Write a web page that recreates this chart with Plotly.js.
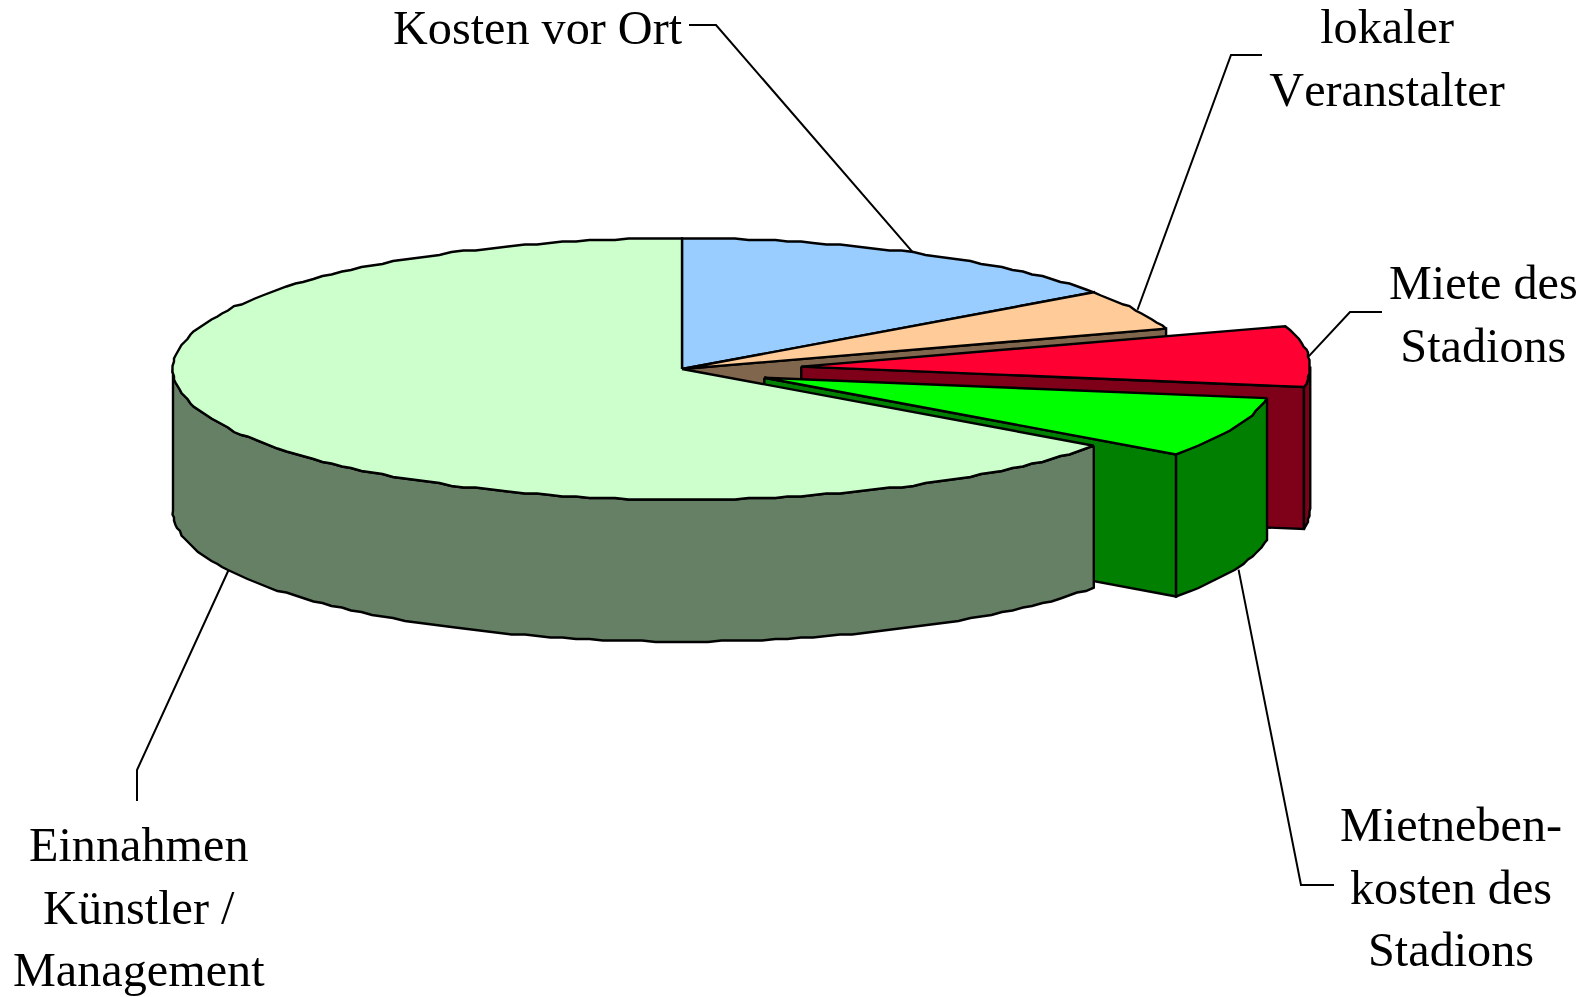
<!DOCTYPE html>
<html>
<head>
<meta charset="utf-8">
<script src="https://cdn.plot.ly/plotly-3.0.1.min.js"></script>
<style>html,body{margin:0;padding:0;background:#fff;overflow:hidden}#chart{width:1577px;height:997px}#chart text{font-kerning:none}</style>
</head>
<body>
<div id="chart"></div>
<script>
// Data, clockwise from 12 o'clock
const categories = ["Kosten vor Ort", "lokaler<br>Veranstalter", "Miete des<br>Stadions", "Mietneben-<br>kosten des<br>Stadions", "Einnahmen<br>Künstler /<br>Management"];
const shares = [15, 5, 7.5, 7.5, 65];
const explode = [0, 0, 0.235, 0.175, 0];
const topColors = ["#99CCFF", "#FFCC99", "#FF0033", "#00FF00", "#CCFFCC"];
const sideColors = ["#4C667F", "#7F664C", "#7F0019", "#007F00", "#668066"];

// Projection of the tilted pie onto the page axes
const CX = 682, CY = 369, RX = 509, RY = 130.5, DEPTH = 142;
const STEP = 1.5, GRID = 1.5;

// Label placement
const labelX = [685, 1387, 1483, 1451, 138.5];
const labelY = [27, 58, 314, 887, 907];
const labelAnchor = ["right", "center", "center", "center", "center"];
const elbowX = [[716, 689], [1231, 1262], [1350, 1382], [1301, 1334], [137, 137]];
const elbowY = [[25, 25], [55, 55], [312, 312], [885, 885], [770, 801]];
const anchorOnBase = [false, false, false, true, true];
const anchorNudgeX = [0, 2, 0, 4, 0];

const rad = d => d * Math.PI / 180;
const total = shares.reduce((a, b) => a + b, 0);
let acc = 0;
const slices = shares.map((v, i) => {
  const t0 = acc / total * 360; acc += v;
  const t1 = acc / total * 360, mid = (t0 + t1) / 2;
  return {i, t0, t1, mid,
    cx: CX + explode[i] * RX * Math.sin(rad(mid)),
    cy: CY - explode[i] * RY * Math.cos(rad(mid))};
});
const pt = (s, t, dz) => [s.cx + RX * Math.sin(rad(t)), s.cy - RY * Math.cos(rad(t)) + dz];
const snap = v => Math.round(v / GRID) * GRID;
// Arc vertices fall on a shared angular grid so rim and top edges coincide
function arc(s, a, b, dz) {
  const out = [pt(s, a, dz)];
  for (let t = Math.ceil(a / STEP + 1e-6) * STEP; t < b - 1e-6; t += STEP) {
    const p = pt(s, t, dz);
    out.push([snap(p[0]), snap(p[1])]);
  }
  out.push(pt(s, b, dz));
  return out;
}
function poly(points, fill, name) {
  const pts = points.concat([points[0]]);
  return {type: "scatter", mode: "lines", x: pts.map(p => p[0]), y: pts.map(p => p[1]),
    fill: "toself", fillcolor: fill, line: {color: "#000", width: 2.4, shape: "linear"},
    name: name, text: name.replace(/<br>/g, " "), hoverinfo: "text", showlegend: false};
}
const traces = [];
slices.forEach(s => {
  const name = categories[s.i], c = [s.cx, s.cy], side = sideColors[s.i];
  // radial side face at the clockwise end, when it turns toward the viewer
  if (s.t1 < 180) {
    const p = pt(s, s.t1, 0);
    traces.push(poly([c, p, [p[0], p[1] + DEPTH], [c[0], c[1] + DEPTH]], side, name));
  }
  // outer rim where it faces the viewer
  const a = Math.max(s.t0, 90), b = Math.min(s.t1, 270);
  if (b > a) {
    traces.push(poly(arc(s, a, b, 0).concat(arc(s, a, b, DEPTH).reverse()), side, name));
  }
  // top surface
  traces.push(poly([c].concat(arc(s, s.t0, s.t1, 0)), topColors[s.i], name));
});
// Leader lines start on the slice rim at its mid angle
slices.forEach(s => {
  const p = pt(s, s.mid, anchorOnBase[s.i] ? DEPTH : 0);
  traces.push({type: "scatter", mode: "lines", x: [p[0] + anchorNudgeX[s.i]].concat(elbowX[s.i]), y: [p[1]].concat(elbowY[s.i]),
    line: {color: "#000", width: 2}, hoverinfo: "skip", showlegend: false});
});
const annotations = categories.map((c, i) => ({
  text: c, x: labelX[i], y: labelY[i], xref: "x", yref: "y",
  xanchor: labelAnchor[i], yanchor: "middle", align: "center", showarrow: false,
  font: {family: "Liberation Serif, serif", size: 48.2, color: "#000"}
}));
const hidden = {visible: false, fixedrange: true};
Plotly.newPlot("chart", traces, {
  width: 1577, height: 997, margin: {l: 0, r: 0, t: 0, b: 0},
  paper_bgcolor: "#fff", plot_bgcolor: "#fff", showlegend: false,
  xaxis: Object.assign({range: [0, 1577]}, hidden),
  yaxis: Object.assign({range: [997, 0]}, hidden),
  annotations: annotations
}, {displayModeBar: false, responsive: false});
</script>
</body>
</html>
